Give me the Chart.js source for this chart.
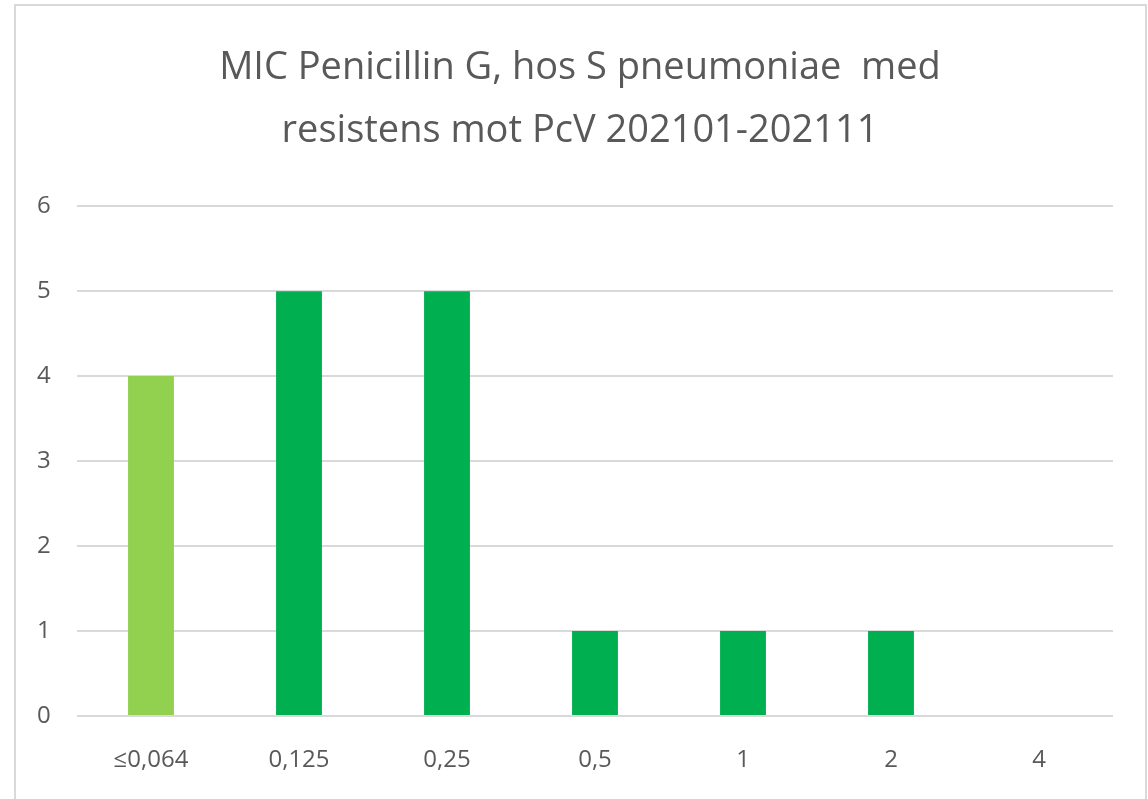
<!DOCTYPE html>
<html>
<head>
<meta charset="utf-8">
<script src="https://cdn.jsdelivr.net/npm/chart.js@4"></script>
<style>
  html, body { margin: 0; padding: 0; background: #fff; }
  #frame {
    position: absolute; left: 14px; top: 4px; width: 1129px; height: 820px;
    border: 2px solid #d9d9d9; border-bottom: none;
  }
  #wrap { position: absolute; left: 0; top: 0; width: 1148px; height: 799px; }
</style>
</head>
<body>
<div id="frame"></div>
<div id="wrap"><canvas id="micChart"></canvas></div>
<script>
// Données
const categories = ['≤0,064', '0,125', '0,25', '0,5', '1', '2', '4'];
const counts = [4, 5, 5, 1, 1, 1, 0];
const barColors = ['#92d050', '#00b050', '#00b050', '#00b050', '#00b050', '#00b050', '#00b050'];
const yTicks = [0, 1, 2, 3, 4, 5, 6];
const titleLines = ['MIC Penicillin G, hos S pneumoniae  med', 'resistens mot PcV 202101-202111'];

const fontFamily = '"Open Sans", "Noto Sans", sans-serif';
const textColor = '#595959';

document.addEventListener('DOMContentLoaded', function() {
    const canvas = document.getElementById('micChart');

    new Chart(canvas, {
        type: 'bar',
        data: {
            labels: categories,
            datasets: [{
                data: counts,
                backgroundColor: barColors,
                borderWidth: 0,
                barPercentage: 1,
                categoryPercentage: 0.31
            }]
        },
        options: {
            responsive: true,
            maintainAspectRatio: false,
            animation: false,
            // padding gauche/droite pour centrer le titre dans le cadre
            layout: {
                padding: { left: 47, right: 35, top: 0, bottom: 0 }
            },
            plugins: {
                legend: { display: false },
                tooltip: { enabled: false },
                title: {
                    display: true,
                    text: titleLines,
                    color: textColor,
                    font: { family: fontFamily, size: 38, weight: 'normal', lineHeight: 1.66 },
                    padding: { top: 37, bottom: 43 }
                }
            },
            scales: {
                x: {
                    grid: { display: false, drawTicks: false },
                    border: { display: false },
                    ticks: {
                        color: textColor,
                        font: { family: fontFamily, size: 24 },
                        padding: 30
                    },
                    afterFit: function(scale) { scale.height = 83; }
                },
                y: {
                    min: 0,
                    max: 6,
                    afterBuildTicks: function(scale) {
                        scale.ticks = yTicks.map(v => ({ value: v }));
                    },
                    grid: { color: '#d9d9d9', lineWidth: 2, drawTicks: false },
                    border: { display: false },
                    // mirror pour éviter le rognage des étiquettes hors de l'axe
                    ticks: {
                        color: textColor,
                        font: { family: fontFamily, size: 24 },
                        mirror: true,
                        padding: -40
                    },
                    afterFit: function(scale) { scale.width = 30; }
                }
            }
        }
    });
});
</script>
</body>
</html>
